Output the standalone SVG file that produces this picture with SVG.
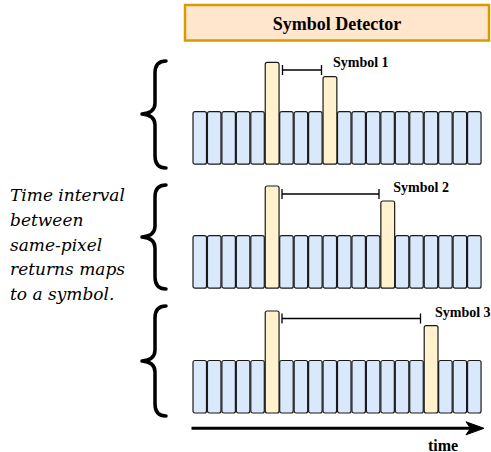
<svg xmlns="http://www.w3.org/2000/svg" width="491" height="452" viewBox="0 0 491 452">
<defs>
<style>
.cell{fill:#dae8fc;stroke:#1a1a1a;stroke-width:1.2}
.bar{fill:#fff2cc;stroke:#1a1a1a;stroke-width:1.2}
.brace{fill:none;stroke:#000;stroke-width:3.5;stroke-linecap:round;stroke-linejoin:round}
.dim{fill:none;stroke:#000;stroke-width:1.3}
.lbl{font-family:"Liberation Serif",serif;font-weight:bold;font-size:14px;fill:#000}
.side{font-family:"DejaVu Serif",serif;font-style:italic;font-size:17px;fill:#000}
</style>
<g id="row-cells">
<rect class="cell" x="0" y="0" width="13.5" height="52.5" rx="2"/>
</g>
</defs>
<rect width="491" height="452" fill="#fff"/>

<g id="header">
<rect x="185" y="5" width="304" height="35.5" fill="#ffe6cc" stroke="#d79b00" stroke-width="2.5"/>
<text x="337" y="30" text-anchor="middle" font-family="Liberation Serif, serif" font-weight="bold" font-size="18px">Symbol Detector</text>
</g>

<g id="side-text">
<text class="side" x="10" y="200.5">Time interval</text>
<text class="side" x="10" y="225.5">between</text>
<text class="side" x="10" y="250.5">same-pixel</text>
<text class="side" x="10" y="275">returns maps</text>
<text class="side" x="10" y="299.5">to a symbol.</text>
</g>

<g id="braces">
<path class="brace" d="M166,61 Q155,61 155,73 L155,103 Q155,113 142,114 Q155,115 155,125 L155,156 Q155,168 166,168"/>
<path class="brace" d="M166,185 Q155,185 155,197 L155,226 Q155,236 142,237 Q155,238 155,248 L155,277 Q155,289 166,289"/>
<path class="brace" d="M166,306 Q155,306 155,318 L155,350 Q155,360 142,361 Q155,362 155,372 L155,404 Q155,416 166,416"/>
</g>

<g id="row1">
<use href="#row-cells" x="193" y="111.7"/>
<use href="#row-cells" x="207.45" y="111.7"/>
<use href="#row-cells" x="221.9" y="111.7"/>
<use href="#row-cells" x="236.35" y="111.7"/>
<use href="#row-cells" x="250.8" y="111.7"/>
<use href="#row-cells" x="279.7" y="111.7"/>
<use href="#row-cells" x="294.15" y="111.7"/>
<use href="#row-cells" x="308.6" y="111.7"/>
<use href="#row-cells" x="337.5" y="111.7"/>
<use href="#row-cells" x="351.95" y="111.7"/>
<use href="#row-cells" x="366.4" y="111.7"/>
<use href="#row-cells" x="380.85" y="111.7"/>
<use href="#row-cells" x="395.3" y="111.7"/>
<use href="#row-cells" x="409.75" y="111.7"/>
<use href="#row-cells" x="424.2" y="111.7"/>
<use href="#row-cells" x="438.65" y="111.7"/>
<use href="#row-cells" x="453.1" y="111.7"/>
<use href="#row-cells" x="467.55" y="111.7"/>
<rect class="bar" x="265.25" y="62.3" width="13.8" height="101.9" rx="2"/>
<rect class="bar" x="323.05" y="76.7" width="13.8" height="87.5" rx="2"/>
</g>

<g id="row2">
<use href="#row-cells" x="193" y="235.7"/>
<use href="#row-cells" x="207.45" y="235.7"/>
<use href="#row-cells" x="221.9" y="235.7"/>
<use href="#row-cells" x="236.35" y="235.7"/>
<use href="#row-cells" x="250.8" y="235.7"/>
<use href="#row-cells" x="279.7" y="235.7"/>
<use href="#row-cells" x="294.15" y="235.7"/>
<use href="#row-cells" x="308.6" y="235.7"/>
<use href="#row-cells" x="323.05" y="235.7"/>
<use href="#row-cells" x="337.5" y="235.7"/>
<use href="#row-cells" x="351.95" y="235.7"/>
<use href="#row-cells" x="366.4" y="235.7"/>
<use href="#row-cells" x="395.3" y="235.7"/>
<use href="#row-cells" x="409.75" y="235.7"/>
<use href="#row-cells" x="424.2" y="235.7"/>
<use href="#row-cells" x="438.65" y="235.7"/>
<use href="#row-cells" x="453.1" y="235.7"/>
<use href="#row-cells" x="467.55" y="235.7"/>
<rect class="bar" x="265.25" y="186" width="13.8" height="102.2" rx="2"/>
<rect class="bar" x="380.85" y="201" width="13.8" height="87.2" rx="2"/>
</g>

<g id="row3">
<use href="#row-cells" x="193" y="360.5"/>
<use href="#row-cells" x="207.45" y="360.5"/>
<use href="#row-cells" x="221.9" y="360.5"/>
<use href="#row-cells" x="236.35" y="360.5"/>
<use href="#row-cells" x="250.8" y="360.5"/>
<use href="#row-cells" x="279.7" y="360.5"/>
<use href="#row-cells" x="294.15" y="360.5"/>
<use href="#row-cells" x="308.6" y="360.5"/>
<use href="#row-cells" x="323.05" y="360.5"/>
<use href="#row-cells" x="337.5" y="360.5"/>
<use href="#row-cells" x="351.95" y="360.5"/>
<use href="#row-cells" x="366.4" y="360.5"/>
<use href="#row-cells" x="380.85" y="360.5"/>
<use href="#row-cells" x="395.3" y="360.5"/>
<use href="#row-cells" x="409.75" y="360.5"/>
<use href="#row-cells" x="438.65" y="360.5"/>
<use href="#row-cells" x="453.1" y="360.5"/>
<use href="#row-cells" x="467.55" y="360.5"/>
<rect class="bar" x="265.25" y="311" width="13.8" height="102" rx="2"/>
<rect class="bar" x="424.2" y="325.7" width="13.8" height="87.3" rx="2"/>
</g>

<g id="connectors">
<path class="dim" d="M282.5,70 H321.5 M282.5,65 V75 M321.5,65 V75"/>
<path class="dim" d="M282,194 H379 M282,189 V199 M379,189 V199"/>
<path class="dim" d="M282,318.5 H420.5 M282,313.5 V323.5 M420.5,313.5 V323.5"/>
<line x1="191.5" y1="428.3" x2="472" y2="428.3" stroke="#000" stroke-width="3"/>
<polygon points="484,428.3 466,421.8 470.5,428.3 466,434.8" fill="#000" stroke="#000" stroke-width="1"/>
</g>

<g id="labels">
<text class="lbl" x="333" y="66.7">Symbol 1</text>
<text class="lbl" x="393.3" y="191.5">Symbol 2</text>
<text class="lbl" x="435" y="316.5">Symbol 3</text>
<text x="443" y="450.5" text-anchor="middle" font-family="Liberation Serif, serif" font-weight="bold" font-size="16px">time</text>
</g>
</svg>
